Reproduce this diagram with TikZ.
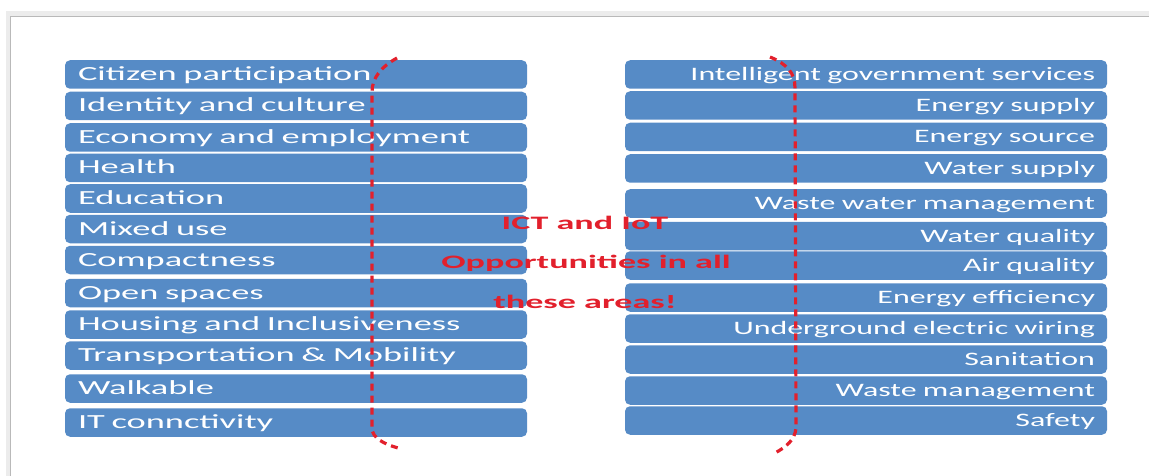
\documentclass[tikz,border=0pt]{standalone}
\usepackage{fontspec}
\setmainfont{Carlito}
\newfontfamily\leftfont[FakeStretch=1.82]{Carlito}
\newfontfamily\rightfont[FakeStretch=1.68]{Carlito}
\newfontfamily\notefont[FakeStretch=1.9]{Carlito}
\definecolor{boxblue}{RGB}{86,139,198}
\definecolor{notered}{RGB}{226,32,44}
\tikzset{
  areabox/.style={fill=boxblue, rounded corners=5pt, minimum height=28.5pt,
    text=white, text height=12pt, text depth=0pt},
  leftbox/.style={areabox, text width=436pt, inner xsep=13pt, align=left,
    font=\leftfont\fontsize{20}{20}\selectfont},
  rightbox/.style={areabox, text width=458pt, inner xsep=12pt, align=right,
    font=\rightfont\fontsize{19}{19}\selectfont},
  notetext/.style={text=notered, anchor=base, font=\notefont\bfseries\fontsize{19}{19}\selectfont},
  ring/.style={notered, line width=3.2pt, dash pattern=on 7pt off 5pt}
}
\begin{document}
\begin{tikzpicture}[x=1pt, y=-1pt]
            \useasboundingbox (0,0) rectangle (1149,476);
            % Draw slide frame
            \draw[gray!15, line width=5pt] (8,476) -- (8,14) -- (1149,14);
            \draw[gray!55, line width=0.8pt] (10,476) -- (10,16) -- (1149,16);

            % Left column
            \node[leftbox] (citizen) at (296,74.5) {Citizen participation};
            \node[leftbox] (identity) at (296,106) {Identity and culture};
            \node[leftbox] (economy) at (296,137.5) {Economy and employment};
            \node[leftbox] (health) at (296,168) {Health};
            \node[leftbox] (education) at (296,198.5) {Education};
            \node[leftbox] (mixed) at (296,229) {Mixed use};
            \node[leftbox] (compact) at (296,260) {Compactness};
            \node[leftbox] (open) at (296,293) {Open spaces};
            \node[leftbox] (housing) at (296,324.5) {Housing and Inclusiveness};
            \node[leftbox] (transport) at (296,355.5) {Transportation \& Mobility};
            \node[leftbox] (walkable) at (296,388.5) {Walkable};
            \node[leftbox] (itconn) at (296,422.5) {IT connctivity};

            % Right column
            \node[rightbox] (govserv) at (866,74.5) {Intelligent government services};
            \node[rightbox] (esupply) at (866,105.5) {Energy supply};
            \node[rightbox] (esource) at (866,137) {Energy source};
            \node[rightbox] (wsupply) at (866,168.5) {Water supply};
            \node[rightbox] (wastewater) at (866,203.5) {Waste water management};
            \node[rightbox] (wquality) at (866,236) {Water quality};
            \node[rightbox] (aquality) at (866,265.5) {Air quality};
            \node[rightbox] (eeff) at (866,297.5) {Energy efficiency};
            \node[rightbox] (wiring) at (866,328.5) {Underground electric wiring};
            \node[rightbox] (sanit) at (866,359.5) {Sanitation};
            \node[rightbox] (wastemgmt) at (866,390.5) {Waste management};
            \node[rightbox] (safety) at (866,420.5) {Safety};

            % Define ring ends
            \coordinate (LT) at (397,58);
            \coordinate (LB) at (398,448);
            \coordinate (RT) at (770,57);
            \coordinate (RB) at (775,453);

            % Draw dashed rings
            \draw[ring] (LT) .. controls (381,67) and (372,78) .. (372,92)
              -- (372,428) .. controls (372,438) and (384,444) .. (LB);
            \draw[ring] (RT) .. controls (787,64) and (795,73) .. (795,88)
              -- (796,428) .. controls (795,440) and (786,447) .. (RB);

            % Centre note
            \node[notetext] (ict) at (585,229) {ICT and IoT};
            \node[notetext] (opport) at (586,268) {Opportunities in all};
            \node[notetext] (areas) at (585,308) {these areas!};
        \end{tikzpicture}
\end{document}
